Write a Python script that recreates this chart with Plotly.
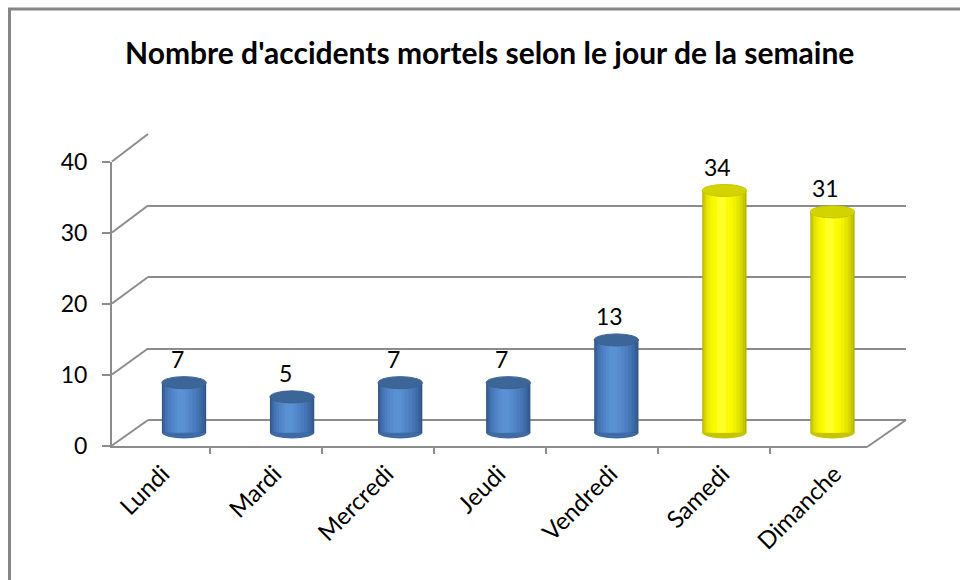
import plotly.graph_objects as go

# ---- data ----
days = ["Lundi", "Mardi", "Mercredi", "Jeudi", "Vendredi", "Samedi", "Dimanche"]
accidents = [7, 5, 7, 7, 13, 34, 31]
weekend = [False, False, False, False, False, True, True]
y_ticks = [0, 10, 20, 30, 40]
title_text = "Nombre d'accidents mortels selon le jour de la semaine"

W, H = 960, 580
def px(x):
    return x / W
def py(y):
    return 1 - y / H

FONT = "Lato"
GRID = "#8C8C8C"

idx = list(range(len(days)))

# colour ramps for the cylinder shading (outer -> inner)
blue_ramp = ["#325687", "#38619A", "#3E6BA8", "#4474B3", "#4A7CBE", "#5084C6", "#558BCD", "#5A91D3"]
yellow_ramp = ["#B5B500", "#C8C800", "#D8D800", "#E6E600", "#F0F000", "#F8F800", "#FDFD00", "#FFFF2A"]
widths = [0.41, 0.385, 0.35, 0.31, 0.26, 0.20, 0.14, 0.08]
shift = [0.0, -0.003, -0.008, -0.013, -0.018, -0.022, -0.025, -0.027]

fig = go.Figure()

# back wall grid subplot (x, y)
fig.add_trace(go.Scatter(x=idx, y=accidents, mode="markers", marker=dict(opacity=0),
                         hoverinfo="skip", showlegend=False, xaxis="x", yaxis="y"))
# front axes subplot (x2, y2)
fig.add_trace(go.Scatter(x=days, y=accidents, mode="markers", marker=dict(opacity=0),
                         hoverinfo="skip", showlegend=False, xaxis="x2", yaxis="y2"))

# cylinders subplot (x3, y3)
for w, bc, yc, s in zip(widths, blue_ramp, yellow_ramp, shift):
    fig.add_trace(go.Bar(
        x=idx, y=accidents, width=w, offset=-w / 2 + s,
        marker=dict(color=[yc if we else bc for we in weekend], line=dict(width=0)),
        hoverinfo="skip", showlegend=False, xaxis="x3", yaxis="y3"))

shapes = []
bw = widths[0]
eh = 0.85
for i, v, we in zip(idx, accidents, weekend):
    # bottom rounded base
    shapes.append(dict(type="circle", xref="x3", yref="y3",
                       x0=i - bw / 2, x1=i + bw / 2, y0=-eh, y1=eh,
                       fillcolor="#C4C400" if we else "#3F6BA5", line=dict(width=0),
                       layer="below"))
    # top cap
    shapes.append(dict(type="circle", xref="x3", yref="y3",
                       x0=i - bw / 2, x1=i + bw / 2, y0=v - eh, y1=v + eh,
                       fillcolor="#D3D300" if we else "#3D6698",
                       line=dict(width=1, color="#C8C800" if we else "#3A6192"),
                       layer="above"))

# depth lines of the 3D box (front -> back)
front_top, front_bot = 161.5, 445.5
back_top, back_bot = 134.0, 420.0
for t in y_ticks:
    yf = front_bot + (front_top - front_bot) * t / 40
    yb = back_bot + (back_top - back_bot) * t / 40
    shapes.append(dict(type="line", xref="paper", yref="paper",
                       x0=px(112), y0=py(yf), x1=px(148), y1=py(yb),
                       line=dict(color=GRID, width=2), layer="below"))
shapes.append(dict(type="line", xref="paper", yref="paper",
                   x0=px(867), y0=py(447), x1=px(906), y1=py(420),
                   line=dict(color=GRID, width=2), layer="below"))
# chart frame
shapes.append(dict(type="rect", xref="paper", yref="paper",
                   x0=px(9.5), y0=py(600), x1=px(990), y1=py(9),
                   line=dict(color="#868686", width=3), fillcolor="rgba(0,0,0,0)"))

annotations = []
for i, v in zip(idx, accidents):
    annotations.append(dict(x=i, y=v, xref="x3", yref="y3", text=str(v),
                            showarrow=False, yshift=24, xshift=-7,
                            font=dict(family=FONT, size=23, color="black")))
annotations.append(dict(x=px(490), y=py(52), xref="paper", yref="paper",
                        xanchor="center", yanchor="middle",
                        text="<b>" + title_text + "</b>", showarrow=False,
                        font=dict(family=FONT, size=30, color="black")))

unit3 = (432.5 - 147.8) / 40
fig.update_layout(
    width=W, height=H,
    margin=dict(l=0, r=0, t=0, b=0, autoexpand=False),
    paper_bgcolor="white", plot_bgcolor="rgba(0,0,0,0)",
    barmode="overlay", showlegend=False,
    shapes=shapes, annotations=annotations,
    font=dict(family=FONT, color="black"),
    xaxis=dict(domain=[px(148), px(906)], range=[-0.5, 6.5], visible=False,
               automargin=False),
    yaxis=dict(domain=[py(back_bot), py(back_top)], range=[0, 40], tickvals=y_ticks,
               showgrid=True, gridcolor=GRID, gridwidth=2, showticklabels=False,
               zeroline=True, zerolinecolor=GRID, zerolinewidth=2, showline=False,
               anchor="x", automargin=False),
    xaxis2=dict(domain=[px(112), px(867)], type="category", categoryarray=days,
                categoryorder="array", showline=True, linecolor=GRID, linewidth=2,
                ticks="outside", tickson="boundaries", ticklen=6, tickcolor=GRID,
                tickwidth=2, tickangle=-45, tickfont=dict(family=FONT, size=24),
                ticklabelshift=9, ticklabelstandoff=3,
                showgrid=False, anchor="y2", automargin=False),
    yaxis2=dict(domain=[py(front_bot), py(front_top)], range=[0, 40], tickvals=y_ticks,
                showline=True, linecolor=GRID, linewidth=2, ticks="outside", ticklen=8,
                tickcolor=GRID, tickwidth=2, showgrid=False, zeroline=False,
                ticklabelstandoff=10,
                tickfont=dict(family=FONT, size=23), anchor="x2", automargin=False),
    xaxis3=dict(domain=[px(130), px(886.5)], range=[-0.5, 6.5], visible=False,
                anchor="y3", automargin=False),
    yaxis3=dict(domain=[py(432.5 + 1.5 * unit3), py(147.8)], range=[-1.5, 40],
                visible=False, anchor="x3", automargin=False),
)

fig.write_html("out.html", post_script="document.body.style.margin='0';",
               config={"displayModeBar": False})
